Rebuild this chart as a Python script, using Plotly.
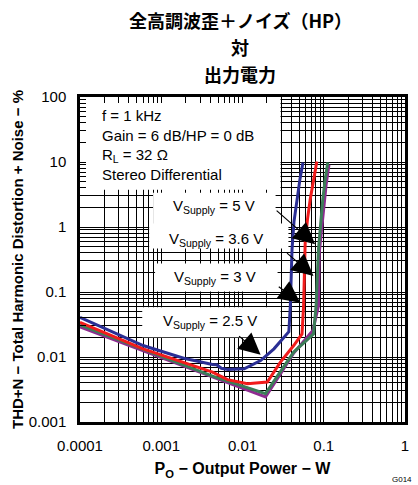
import plotly.graph_objects as go
import numpy as np

# ---- data ----
x_ticks = [1e-4, 1e-3, 1e-2, 1e-1, 1]
x_ticktext = ["0.0001", "0.001", "0.01", "0.1", "1"]
y_ticks = [1e-3, 1e-2, 1e-1, 1, 10, 100]
y_ticktext = ["0.001", "0.01", "0.1", "1", "10", "100"]

p_25 = [1.0e-4, 5.98e-4, 1.47e-3, 2.02e-3, 4.27e-3, 4.8e-3, 5.5e-3, 6.6e-3, 0.0105, 0.0167, 0.0244, 0.0372,
        0.0388, 0.0398, 0.0407, 0.0430, 0.0469, 0.0510, 0.0555]
thd_25 = [0.0408, 0.0150, 0.01054, 0.00937, 0.00767, 0.0076, 0.0067, 0.0064, 0.0066, 0.00883, 0.01336, 0.0245,
          0.0615, 0.2, 0.454, 1.2, 2.65, 5.5, 9.86]

p_3 = [1e-4, 5.98e-4, 4.27e-3, 6.56e-3, 0.0115, 0.0202, 0.0293, 0.0427, 0.0540,
       0.0565, 0.0591, 0.0630, 0.0681, 0.0750, 0.0822]
thd_3 = [0.0342, 0.01336, 0.00587, 0.00448, 0.00389, 0.00413, 0.00836, 0.0150, 0.0226,
         0.0615, 0.575, 1.3, 2.65, 5.3, 10.2]

p_36 = [1e-4, 4.27e-3, 0.0192, 0.0293, 0.0427, 0.0734, 0.0861, 0.0880, 0.0993, 0.107, 0.116]
thd_36 = [0.029, 0.0050, 0.00243, 0.0055, 0.0115, 0.0255, 0.0615, 0.4, 1.86, 4.5, 9.1]

p_5 = [1e-4, 4.27e-3, 0.0192, 0.0293, 0.0427, 0.0748, 0.0805, 0.0861, 0.0920, 0.0973, 0.104, 0.112]
thd_5 = [0.0311, 0.00509, 0.00273, 0.00587, 0.0119, 0.0226, 0.0615, 0.454, 1.3, 2.65, 5.3, 9.86]

series = [
    ("3.6 V", p_36, thd_36, "#8E2A90"),
    ("5 V", p_5, thd_5, "#3C7D58"),
    ("3 V", p_3, thd_3, "#F21C1C"),
    ("2.5 V", p_25, thd_25, "#2A2E94"),
]

title_lines = ["全高調波歪＋ノイズ（HP）", "対", "出力電力"]

W, H = 418, 485
L, R, T, B = 80, 9, 97, 62
PW, PH = W - L - R, H - T - B
XLOG = (-4, 0)
YLOG = (-3, 2)

def px(x):
    return (x - L) / PW

def py(y):
    return (H - B - y) / PH

def xdata(x):
    return 10 ** (XLOG[0] + px(x) * (XLOG[1] - XLOG[0]))

def ydata(y):
    return 10 ** (YLOG[0] + py(y) * (YLOG[1] - YLOG[0]))

fig = go.Figure()
for name, xs, ys, col in series:
    fig.add_trace(go.Scatter(x=xs, y=ys, mode="lines", name=name,
                             line=dict(color=col, width=3), showlegend=False))

FONT = "Liberation Sans, Arial, Noto Sans CJK JP, sans-serif"
CJK = "Noto Sans CJK JP, Liberation Sans, sans-serif"

# white label boxes (cover grid, under traces)
boxes = [
    (81, 97, 283, 190),
    (154, 193, 278, 226),
    (150, 224, 291, 249),
    (156, 264, 280, 292),
    (143, 308, 283, 338),
]
shapes = []
for x0, y0, x1, y1 in boxes:
    shapes.append(dict(type="rect", xref="x", yref="y",
                       x0=xdata(x0), x1=xdata(x1), y0=ydata(y1), y1=ydata(y0),
                       fillcolor="white", line=dict(width=0), layer="between"))

annotations = [
    dict(text="f = 1 kHz<br>Gain = 6 dB/HP = 0 dB<br>R<sub>L</sub> = 32 Ω<br>Stereo Differential",
         xref="paper", yref="paper", x=px(100), y=py(105), xanchor="left", yanchor="top",
         align="left", showarrow=False, font=dict(size=15, family=FONT, color="black")),
]
for txt, cy in zip(title_lines, [20, 47, 74]):
    annotations.append(dict(text="<b>" + txt + "</b>", xref="paper", yref="paper",
                            x=px(242), y=py(cy), xanchor="center", yanchor="middle",
                            showarrow=False, font=dict(size=18, family=CJK, color="black")))

labels = [
    ("V<sub>Supply</sub> = 5 V", 216, 207),
    ("V<sub>Supply</sub> = 3.6 V", 218, 240),
    ("V<sub>Supply</sub> = 3 V", 217, 278),
    ("V<sub>Supply</sub> = 2.5 V", 212, 322),
]
for txt, cx, cy in labels:
    annotations.append(dict(text=txt, xref="paper", yref="paper", x=px(cx), y=py(cy),
                            xanchor="center", yanchor="middle", showarrow=False,
                            font=dict(size=15, family=FONT, color="black")))

# arrows: tip in log data units, tail offset in pixels
arrows = [
    (-1.106, -0.266, -40, -35),
    (-1.126, -0.752, -28, -24),
    (-1.289, -1.165, -23, -17),
    (-1.777, -1.966, -23, -20),
]
for ax_, ay_, dx, dy in arrows:
    annotations.append(dict(text="", x=ax_, y=ay_, xref="x", yref="y", ax=dx, ay=dy,
                            showarrow=True, arrowhead=2, arrowsize=3.6, arrowwidth=1.2,
                            arrowcolor="black", standoff=0))

annotations.append(dict(text="G014", xref="paper", yref="paper", x=px(394), y=py(481),
                        xanchor="left", yanchor="middle", showarrow=False,
                        font=dict(size=8, family=FONT, color="black")))

fig.update_layout(
    width=W, height=H,
    margin=dict(l=L, r=R, t=T, b=B),
    paper_bgcolor="white", plot_bgcolor="white",
    font=dict(family=FONT, color="black"),
    shapes=shapes,
    annotations=annotations,
)

axis_common = dict(
    type="log", showgrid=True, gridcolor="black", gridwidth=1,
    showline=True, linecolor="black", linewidth=2.5, mirror="allticks",
    ticks="inside", ticklen=6, tickcolor="black", tickwidth=1,
    zeroline=False, tickfont=dict(size=15, family=FONT, color="black"),
    minor=dict(dtick="D1", showgrid=True, gridcolor="black", gridwidth=1,
               ticks="inside", ticklen=6, tickcolor="black", tickwidth=1),
)

fig.update_xaxes(**axis_common, range=list(XLOG), tickvals=x_ticks, ticktext=x_ticktext,
                 ticklabelstandoff=8,
                 title=dict(text="<b>P<sub>O</sub> − Output Power − W</b>", standoff=11,
                            font=dict(size=16, family=FONT, color="black")))
fig.update_yaxes(**axis_common, range=list(YLOG), tickvals=y_ticks, ticktext=y_ticktext,
                 ticklabelstandoff=8,
                 title=dict(text="<b>THD+N − Total Harmonic Distortion + Noise − %</b>", standoff=2,
                            font=dict(size=15, family=FONT, color="black")))

fig.write_html("out.html")
